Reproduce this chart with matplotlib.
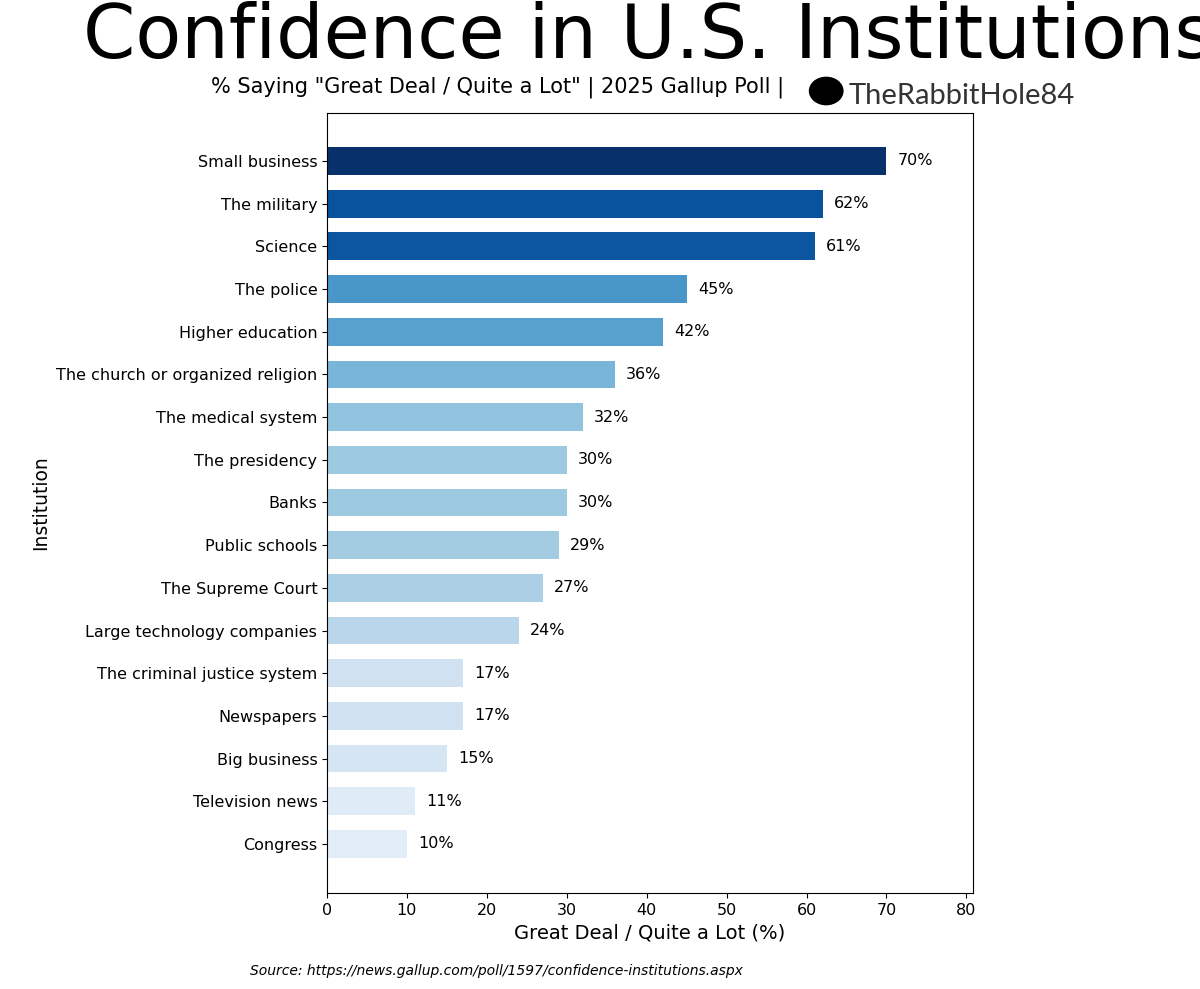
import numpy as np
import matplotlib.pyplot as plt
from matplotlib.patches import Circle

institutions = ['Small business', 'The military', 'Science', 'The police', 'Higher education',
                'The church or organized religion', 'The medical system', 'The presidency', 'Banks',
                'Public schools', 'The Supreme Court', 'Large technology companies',
                'The criminal justice system', 'Newspapers', 'Big business', 'Television news', 'Congress']
confidence = [70, 62, 61, 45, 42, 36, 32, 30, 30, 29, 27, 24, 17, 17, 15, 11, 10]

fig = plt.figure(figsize=(12, 9.89), dpi=100)
ax = fig.add_axes([0.2725, 0.097, 0.5385, 0.789])

y = np.arange(len(institutions))
colors = plt.cm.Blues((np.array(confidence) / max(confidence)) ** 1.15)
ax.barh(y, confidence, height=0.65, color=colors)
for yi, v in zip(y, confidence):
    ax.text(v + 1.4, yi, f'{v}%', va='center', ha='left', fontsize=11.5)

ax.set_yticks(y)
ax.set_yticklabels(institutions, fontsize=11.5)
ax.set_ylim(len(institutions) - 1 + 1.15, -1.13)
ax.set_xlim(0, 80.85)
ax.set_xticks(range(0, 81, 10))
ax.tick_params(axis='x', labelsize=11.5)
ax.set_xlabel('Great Deal / Quite a Lot (%)', fontsize=14)
ax.set_ylabel('Institution', fontsize=13.5)

fig.text(0.54, 0.962, 'Confidence in U.S. Institutions', fontsize=54, ha='center', va='center')
fig.text(0.415, 0.912, '% Saying "Great Deal / Quite a Lot" | 2025 Gallup Poll |', fontsize=15,
         ha='center', va='center')
fig.patches.append(Circle((0.6885, 0.908), 0.0145, transform=fig.transFigure, facecolor='black'))
fig.text(0.707, 0.903, 'TheRabbitHole84', fontsize=21, ha='left', va='center', color='#333333',
         family='Lato')
fig.text(0.208, 0.018, 'Source: https://news.gallup.com/poll/1597/confidence-institutions.aspx',
         fontsize=10, style='italic', ha='left', va='center')

fig.savefig('out.png', dpi=100)
